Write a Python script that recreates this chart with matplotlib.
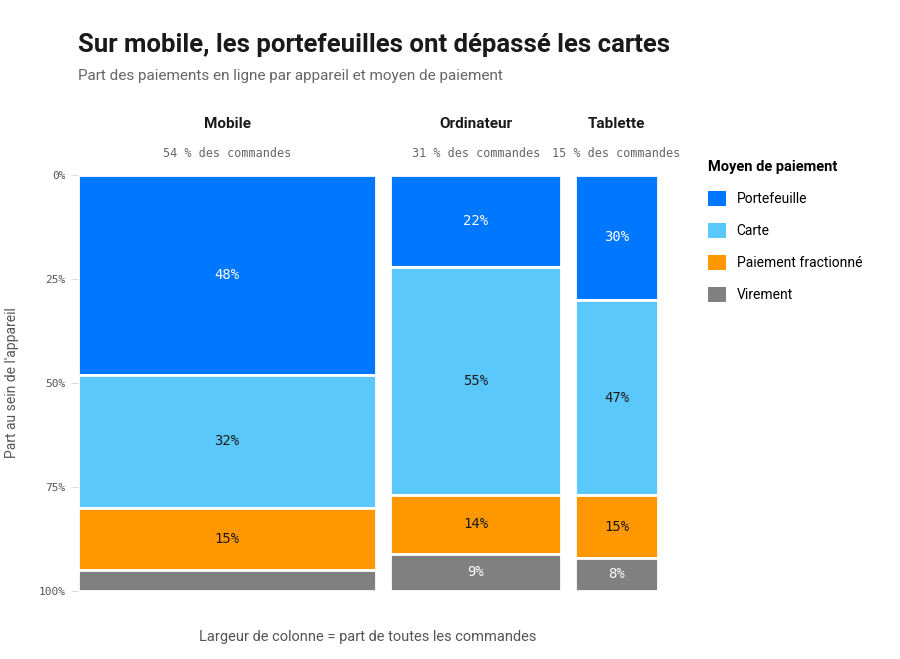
import matplotlib
matplotlib.use("Agg")
import matplotlib.pyplot as plt
from matplotlib.patches import Patch

devices = ["Mobile", "Ordinateur", "Tablette"]
device_share = [54, 31, 15]
methods = ["Portefeuille", "Carte", "Paiement fractionné", "Virement"]
shares = {
    "Portefeuille": [48, 22, 30],
    "Carte": [32, 55, 47],
    "Paiement fractionné": [15, 14, 15],
    "Virement": [5, 9, 8],
}
colors = ["#0077ff", "#5bc8fc", "#ff9800", "#808080"]
text_colors = ["white", "#1a1a1a", "#1a1a1a", "white"]
yticks = [0, 25, 50, 75, 100]

fig = plt.figure(figsize=(9, 6.59), dpi=100)
ax = fig.add_axes([78/900, 1-591/659, 580/900, 416/659])
gap = 14/552*100
x = 0
for i, (d, w) in enumerate(zip(devices, device_share)):
    bottom = 0
    for m, c, tc in zip(methods, colors, text_colors):
        v = shares[m][i]
        ax.bar(x, v, width=w, bottom=bottom, align="edge", color=c,
               edgecolor="white", linewidth=2)
        if v >= 8:
            ax.text(x + w/2, bottom + v/2, f"{v}%", ha="center", va="center",
                    color=tc, fontsize=10, family="DejaVu Sans Mono")
        bottom += v
    ax.text(x + w/2, -10.5, d, ha="center", va="bottom", fontsize=11,
            fontweight="bold", family="Roboto", color="#1a1a1a")
    ax.text(x + w/2, -3.5, f"{w} % des commandes", ha="center", va="bottom",
            fontsize=8.5, family="DejaVu Sans Mono", color="#666666")
    x += w + gap
ax.set_xlim(0, 100 + 2*gap)
ax.set_ylim(100, 0)
ax.set_yticks(yticks)
ax.set_yticklabels([f"{t}%" for t in yticks], family="DejaVu Sans Mono",
                   fontsize=8, color="#555555")
ax.tick_params(axis="y", length=5, color="#dddddd", pad=4)
ax.set_xticks([])
for s in ax.spines.values():
    s.set_visible(False)
ax.set_ylabel("Part au sein de l'appareil", family="Roboto", fontsize=10,
              color="#555555", labelpad=14)
ax.set_xlabel("Largeur de colonne = part de toutes les commandes",
              family="Roboto", fontsize=10.5, color="#555555", labelpad=28)

fig.text(78/900, 1-45/659, "Sur mobile, les portefeuilles ont dépassé les cartes",
         family="Roboto", fontweight="bold", fontsize=18.5, color="#1a1a1a", va="center")
fig.text(78/900, 1-76/659, "Part des paiements en ligne par appareil et moyen de paiement",
         family="Roboto", fontsize=11, color="#666666", va="center")

handles = [Patch(facecolor=c, edgecolor="none") for c in colors]
leg = fig.legend(handles, methods, loc="upper left", bbox_to_anchor=(695/900, 1-148/659),
                 frameon=False, title="Moyen de paiement", handlelength=1.3,
                 handleheight=1.3, labelspacing=1.2, prop={"family": "Roboto", "size": 10})
leg.get_title().set_fontweight("bold")
leg.get_title().set_family("Roboto")
leg.get_title().set_fontsize(10.5)
leg._legend_box.align = "left"
fig.savefig("out.png", dpi=100, facecolor="white")
